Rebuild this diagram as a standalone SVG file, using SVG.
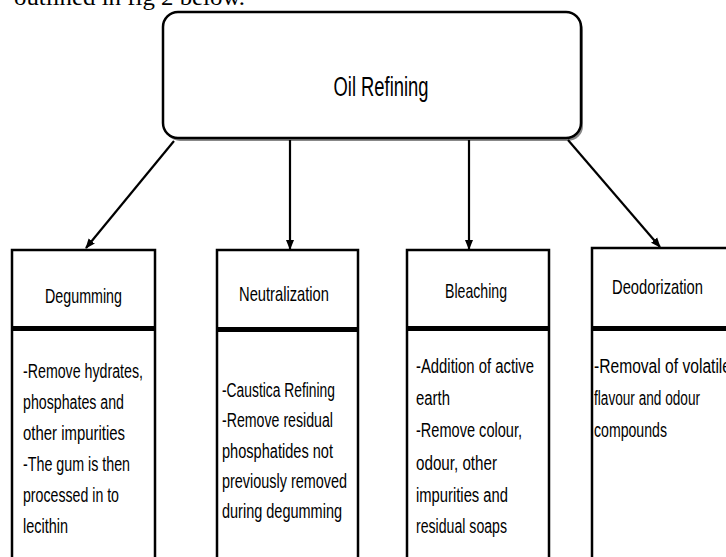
<svg xmlns="http://www.w3.org/2000/svg" width="726" height="557" viewBox="0 0 726 557">
<defs>
<marker id="ah" markerWidth="10" markerHeight="10" refX="9" refY="5" orient="auto" markerUnits="userSpaceOnUse">
<path d="M0,1 L10,5 L0,9 Z" fill="#000"/>
</marker>
<style>
.box{fill:#fff;stroke:#000;stroke-width:2.5}
.div{fill:#000}
.t{font-family:"Liberation Sans",Arial,sans-serif;fill:#000}
.h{font-size:21px}
.b{font-size:19.5px}
.conn line{stroke:#000;stroke-width:2.2;marker-end:url(#ah)}
</style>
</defs>
<rect width="726" height="557" fill="#fff"/>
<text x="14" y="5" font-family="Liberation Serif,serif" font-size="24" textLength="231" lengthAdjust="spacingAndGlyphs">outlined in fig 2 below.</text>

<g id="oil-refining">
<rect x="165" y="15" width="418" height="126" rx="15" fill="#888"/>
<rect x="163" y="12" width="418" height="126" rx="15" class="box" stroke-width="3"/>
<text class="t" x="381" y="96" font-size="27" text-anchor="middle" textLength="95" lengthAdjust="spacingAndGlyphs">Oil Refining</text>
</g>

<g id="connectors" class="conn">
<line x1="174" y1="141" x2="86" y2="248"/>
<line x1="290" y1="140" x2="290" y2="249"/>
<line x1="469" y1="140" x2="469" y2="249"/>
<line x1="568" y1="140" x2="660" y2="247"/>
</g>

<g id="degumming">
<rect x="12" y="250" width="143" height="320" class="box"/>
<rect x="11" y="326" width="145" height="5" class="div"/>
<text class="t h" x="45" y="303" textLength="77" lengthAdjust="spacingAndGlyphs">Degumming</text>
<text class="t b" x="23" y="378" textLength="120" lengthAdjust="spacingAndGlyphs">-Remove hydrates,</text>
<text class="t b" x="23" y="409" textLength="101" lengthAdjust="spacingAndGlyphs">phosphates and</text>
<text class="t b" x="23" y="440" textLength="102" lengthAdjust="spacingAndGlyphs">other impurities</text>
<text class="t b" x="23" y="471" textLength="107" lengthAdjust="spacingAndGlyphs">-The gum is then</text>
<text class="t b" x="23" y="502" textLength="96" lengthAdjust="spacingAndGlyphs">processed in to</text>
<text class="t b" x="23" y="533" textLength="45" lengthAdjust="spacingAndGlyphs">lecithin</text>
</g>

<g id="neutralization">
<rect x="217" y="250" width="141" height="320" class="box"/>
<rect x="216" y="327" width="143" height="5" class="div"/>
<text class="t h" x="239" y="301" textLength="90" lengthAdjust="spacingAndGlyphs">Neutralization</text>
<text class="t b" x="222" y="397" textLength="113" lengthAdjust="spacingAndGlyphs">-Caustica Refining</text>
<text class="t b" x="222" y="427" textLength="111" lengthAdjust="spacingAndGlyphs">-Remove residual</text>
<text class="t b" x="222" y="458" textLength="111" lengthAdjust="spacingAndGlyphs">phosphatides not</text>
<text class="t b" x="222" y="488" textLength="125" lengthAdjust="spacingAndGlyphs">previously removed</text>
<text class="t b" x="222" y="518" textLength="120" lengthAdjust="spacingAndGlyphs">during degumming</text>
</g>

<g id="bleaching">
<rect x="407" y="250" width="142" height="320" class="box"/>
<rect x="406" y="326" width="144" height="5" class="div"/>
<text class="t h" x="445" y="298" textLength="62" lengthAdjust="spacingAndGlyphs">Bleaching</text>
<text class="t b" x="416" y="373" textLength="118" lengthAdjust="spacingAndGlyphs">-Addition of active</text>
<text class="t b" x="416" y="405" textLength="34" lengthAdjust="spacingAndGlyphs">earth</text>
<text class="t b" x="416" y="437" textLength="106" lengthAdjust="spacingAndGlyphs">-Remove colour,</text>
<text class="t b" x="416" y="470" textLength="81" lengthAdjust="spacingAndGlyphs">odour, other</text>
<text class="t b" x="416" y="502" textLength="92" lengthAdjust="spacingAndGlyphs">impurities and</text>
<text class="t b" x="416" y="533" textLength="91" lengthAdjust="spacingAndGlyphs">residual soaps</text>
</g>

<g id="deodorization">
<rect x="592" y="248" width="150" height="320" class="box"/>
<rect x="591" y="326" width="150" height="5" class="div"/>
<text class="t h" x="612" y="294" textLength="91" lengthAdjust="spacingAndGlyphs">Deodorization</text>
<text class="t b" x="594" y="373" textLength="137" lengthAdjust="spacingAndGlyphs">-Removal of volatile</text>
<text class="t b" x="594" y="405" textLength="106" lengthAdjust="spacingAndGlyphs">flavour and odour</text>
<text class="t b" x="594" y="437" textLength="73" lengthAdjust="spacingAndGlyphs">compounds</text>
</g>
</svg>
